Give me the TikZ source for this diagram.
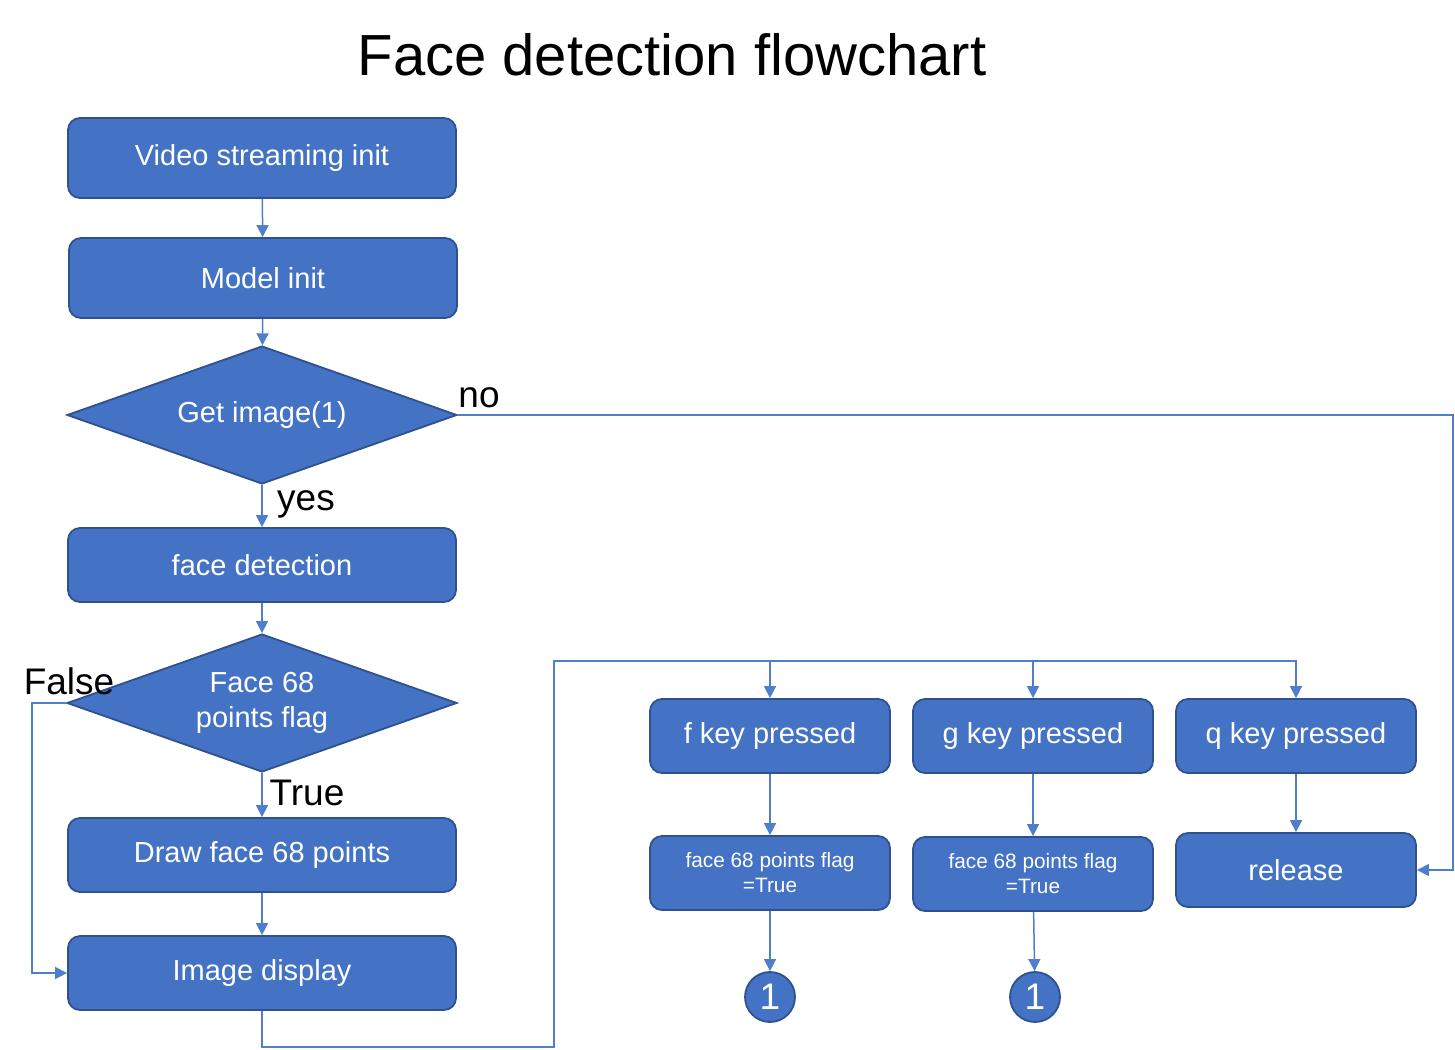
\documentclass[tikz,border=0pt]{standalone}
\usepackage{fontspec}
\setmainfont{Liberation Sans}
\usepackage{tikz}
\usetikzlibrary{arrows.meta,positioning,shapes.geometric}

\definecolor{boxblue}{HTML}{4472C4}
\definecolor{boxedge}{HTML}{2F528F}
\definecolor{linkblue}{HTML}{4F7FCC}

\tikzset{
  stepbox/.style={draw=boxedge, line width=0.9pt, fill=boxblue, rounded corners=6pt,
    text=white, font=\fontsize{14.5}{17}\selectfont, align=center, inner sep=0pt,
    minimum width=194pt, minimum height=40pt},
  keybox/.style={stepbox, minimum width=120pt, minimum height=37pt},
  flagbox/.style={keybox, font=\fontsize{10.4}{12.5}\selectfont},
  decision/.style={diamond, aspect=2.8, draw=boxedge, line width=0.9pt, fill=boxblue,
    text=white, font=\fontsize{14.5}{17.5}\selectfont, align=center, inner sep=0pt,
    minimum width=195pt, minimum height=69pt},
  jump/.style={circle, draw=boxedge, line width=0.9pt, fill=boxblue, text=white,
    minimum size=25pt, inner sep=0pt, font=\fontsize{18.5}{20}\selectfont},
  link/.style={draw=linkblue, line width=0.75pt, -{Triangle[length=6pt,width=6pt]}},
  flowlabel/.style={font=\fontsize{18.5}{20}\selectfont}
}

\begin{document}
\begin{tikzpicture}[x=0.5pt,y=-0.5pt]
\useasboundingbox (0,0) rectangle (1455,1049);

% Title
\node[font=\fontsize{29}{34}\selectfont] (title) at (672,55) {Face detection flowchart};

% Main column
\node[stepbox] (video) at (262,158) {Video streaming init};
\node[stepbox] (model) at (263,278) {Model init};
\node[decision] (getimg) at (262,415) {Get image(1)};
\node[stepbox, minimum height=37pt] (facedet) at (262,565) {face detection};
\node[decision] (flagdec) at (262,703) {Face 68\\points flag};
\node[stepbox, minimum height=37pt] (drawpts) at (262,855) {Draw face 68 points};
\node[stepbox, minimum height=37pt] (imgdisp) at (262,973) {Image display};

% Key handling
\foreach \k/\x in {f/770,g/1033,q/1296}{
  \node[keybox] (\k key) at (\x,736) {\k{} key pressed};
}
\node[flagbox] (fflag) at (770,873) {face 68 points flag\\=True};
\node[flagbox] (gflag) at (1033,874) {face 68 points flag\\=True};
\node[keybox] (release) at (1296,870) {release};
\node[jump] (fone) at (770,997) {1};
\node[jump] (gone) at (1035,997) {1};

% Turning points
\coordinate (noturn) at (1453,415);
\coordinate (falseturn) at (32,703);
\coordinate (busL) at (554,1047);
\coordinate (busT) at (554,661);

% Main flow
\draw[link] (video) -- (model);
\draw[link] (model) -- (getimg);
\draw[link] (getimg) -- (facedet);
\draw[link] (facedet) -- (flagdec);
\draw[link] (flagdec) -- (drawpts);
\draw[link] (drawpts) -- (imgdisp);
\draw[link] (flagdec.west) -- (falseturn) |- (imgdisp.west);
\draw[link] (getimg.east) -- (noturn) |- (release.east);

% Loop back to the keys
\draw[link] (imgdisp.south) |- (busL) -- (busT) -| (qkey.north);
\draw[link] (fkey.north |- busT) -- (fkey.north);
\draw[link] (gkey.north |- busT) -- (gkey.north);
\draw[link] (fkey) -- (fflag);
\draw[link] (gkey) -- (gflag);
\draw[link] (qkey) -- (release);
\draw[link] (fflag) -- (fone);
\draw[link] (gflag) -- (gone);

% Branch labels
\node[flowlabel] (nolbl) at (479,398) {no};
\node[flowlabel] (yeslbl) at (306,504) {yes};
\node[flowlabel] (truelbl) at (307,793) {True};
\node[flowlabel] (falselbl) at (69,681) {False};

\end{tikzpicture}
\end{document}
